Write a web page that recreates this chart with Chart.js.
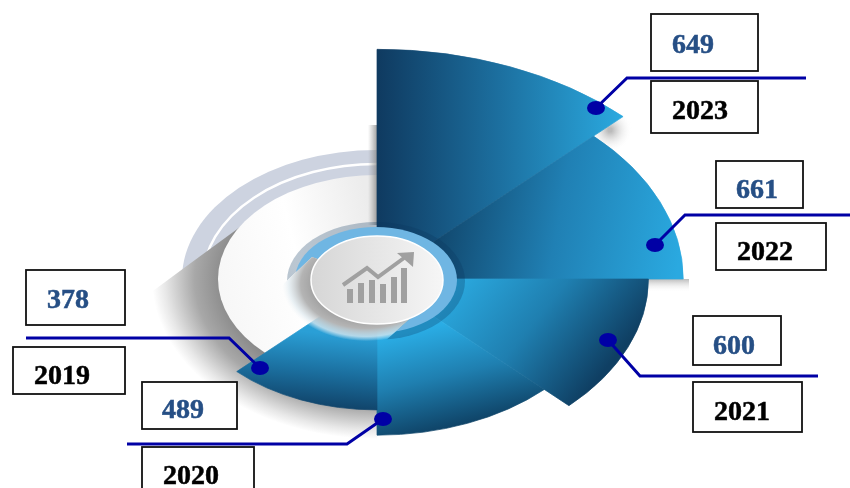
<!DOCTYPE html>
<html>
<head>
<meta charset="utf-8">
<style>html,body{margin:0;padding:0;background:#fff}canvas{display:block}</style>
<script src="https://cdn.jsdelivr.net/npm/chart.js@4"></script>
</head>
<body>
<canvas id="c" width="850" height="488"></canvas>
<script>
// Sector order is clockwise from 12 o'clock, as in the picture.
const categories = ['2023', '2022', '2021', '2020', '2019'];
const values = [649, 661, 600, 489, 378];
// The picture's sectors step down in length by position, not by value:
// this is each sector's length, in % of the longest.
const sectorReach = [100, 88, 78, 68, 57];
const sectorAngle = [45, 45, 45, 45, 45];

const CX = 377, CY = 279, TILT = 0.66, LONGEST = 348;

const fills = [
  {from: [377, 150], to: [620, 150], stops: ['#0f3a60', '#1c6f9f', '#2aa8de']},
  {from: [430, 220], to: [683, 240], stops: ['#104368', '#2080b4', '#2aa9e0']},
  {from: [455, 285], to: [625, 345], stops: ['#2aa8de', '#1f7fb0', '#0f3f63']},
  {from: [395, 335], to: [445, 428], stops: ['#2aade5', '#1f7fb0', '#0f4468']},
  {from: [345, 335], to: [330, 412], stops: ['#2a9fd6', '#1b6f9f', '#0f3e63']}
];

const callouts = [
  {value: {box: [651, 14, 107, 57], text: [672, 53]}, year: {box: [651, 81, 107, 52], text: [672, 119]},
   line: [[806, 78], [627, 78], [596, 108]]},
  {value: {box: [716, 161, 87, 47], text: [736, 198]}, year: {box: [716, 223, 110, 47], text: [737, 260]},
   line: [[850, 215], [685, 215], [655, 245]]},
  {value: {box: [693, 316, 88, 49], text: [713, 354]}, year: {box: [693, 382, 109, 50], text: [714, 420]},
   line: [[818, 376], [640, 376], [608, 340]]},
  {value: {box: [142, 382, 95, 47], text: [162, 418]}, year: {box: [142, 447, 112, 50], text: [163, 484]},
   line: [[127, 444], [347, 444], [383, 419]]},
  {value: {box: [26, 270, 99, 55], text: [47, 308]}, year: {box: [13, 347, 112, 47], text: [34, 384]},
   line: [[26, 338], [229, 338], [260, 368]]}
];

function kx(r) { return LONGEST / r.drawingArea; }
function ky(r) { return LONGEST * TILT / r.drawingArea; }

function sectorFill(context) {
  const f = fills[context.dataIndex];
  const r = context.chart.scales.r;
  if (!f || !r || !r.drawingArea) return '#1c6f9f';
  const lx = x => r.xCenter + (x - CX) / kx(r);
  const ly = y => r.yCenter + (y - CY) / ky(r);
  const g = context.chart.ctx.createLinearGradient(lx(f.from[0]), ly(f.from[1]), lx(f.to[0]), ly(f.to[1]));
  f.stops.forEach((s, i) => g.addColorStop(i / (f.stops.length - 1), s));
  return g;
}

function ell(ctx, x, y, a, b) { ctx.beginPath(); ctx.ellipse(x, y, a, b, 0, 0, Math.PI * 2); }

function drawBackdrop(ctx) {
  // pale double ring, upper left
  ctx.save();
  ctx.beginPath(); ctx.rect(150, 130, 227, 165); ctx.clip();
  ell(ctx, CX, CY, 195, 129); ctx.fillStyle = '#cdd3e0'; ctx.fill();
  ell(ctx, CX, CY, 174, 115); ctx.strokeStyle = '#fff'; ctx.lineWidth = 2.5; ctx.stroke();
  ctx.restore();

  // cast shadow, lower left
  ctx.save();
  ctx.beginPath();
  ctx.moveTo(130, 308); ctx.lineTo(184, 268); ctx.lineTo(240, 227); ctx.lineTo(377, 227);
  ctx.lineTo(377, 450); ctx.lineTo(130, 450); ctx.closePath(); ctx.clip();
  ctx.translate(CX, CY); ctx.scale(1, 160 / 225);
  let g = ctx.createRadialGradient(0, 0, 140, 0, 0, 225);
  g.addColorStop(0, '#7c7c7c');
  g.addColorStop(0.5, '#a8a8a8');
  g.addColorStop(0.85, '#e8e8e8');
  g.addColorStop(1, '#ffffff');
  ctx.fillStyle = g;
  ell(ctx, 0, 0, 225, 225); ctx.fill();
  ctx.restore();

  // white disc
  ctx.save();
  ctx.beginPath(); ctx.rect(150, 130, 227, 300); ctx.clip();
  g = ctx.createLinearGradient(218, 279, 377, 240);
  g.addColorStop(0, '#f7f7f7'); g.addColorStop(0.5, '#ffffff'); g.addColorStop(1, '#ececec');
  ell(ctx, CX, CY, 159, 104); ctx.fillStyle = g; ctx.fill();
  ctx.restore();

  // strip of shadow down the left side of the top sector
  g = ctx.createLinearGradient(368, 0, 377, 0);
  g.addColorStop(0, 'rgba(150,150,150,0)'); g.addColorStop(1, 'rgba(130,130,130,.75)');
  ctx.fillStyle = g; ctx.fillRect(368, 125, 9, 100);

  // shadow under the tip of the second sector and the right edge
  g = ctx.createLinearGradient(0, 279, 0, 292);
  g.addColorStop(0, 'rgba(170,170,170,.8)'); g.addColorStop(1, 'rgba(255,255,255,0)');
  ctx.fillStyle = g; ctx.fillRect(645, 279, 44, 13);
  g = ctx.createRadialGradient(610, 130, 2, 610, 130, 22);
  g.addColorStop(0, 'rgba(170,170,170,.8)'); g.addColorStop(1, 'rgba(255,255,255,0)');
  ctx.fillStyle = g; ctx.fillRect(588, 108, 44, 44);
}

function hubShadowPath(ctx) {
  ctx.moveTo(262, 304); ctx.lineTo(312, 257); ctx.lineTo(377, 280); ctx.lineTo(412, 317);
  ctx.lineTo(375, 350); ctx.lineTo(262, 350); ctx.closePath();
}

function drawHub(ctx) {
  // dark halo and pale-blue ring, left open at the lower left where the shadow falls
  ctx.save();
  ctx.beginPath();
  ctx.rect(0, 0, 850, 488);
  hubShadowPath(ctx);
  ctx.clip('evenodd');
  ell(ctx, 376, 281, 89, 59); ctx.fillStyle = 'rgba(12,55,95,.28)'; ctx.fill();
  ell(ctx, 376, 280, 81, 53); ctx.fillStyle = '#6fb6e3'; ctx.fill();
  ctx.restore();

  // soft shadow falling to the lower left of the hub
  ctx.save();
  ctx.beginPath();
  hubShadowPath(ctx);
  ctx.clip();
  ctx.translate(366, 284); ctx.scale(1, 0.68);
  let g = ctx.createRadialGradient(0, 0, 50, 0, 0, 84);
  g.addColorStop(0, '#9d9d9d'); g.addColorStop(0.45, '#b4b4b4'); g.addColorStop(0.8, 'rgba(225,235,240,.75)'); g.addColorStop(1, 'rgba(240,245,248,0)');
  ctx.fillStyle = g;
  ell(ctx, 0, 0, 84, 84); ctx.fill();
  ctx.restore();

  // grey oval
  g = ctx.createLinearGradient(311, 280, 443, 280);
  g.addColorStop(0, '#d6d6d6'); g.addColorStop(1, '#f6f6f6');
  ell(ctx, 377, 280, 66, 44); ctx.fillStyle = g; ctx.fill();
  ctx.strokeStyle = '#fff'; ctx.lineWidth = 1.5; ctx.stroke();

  // rising-chart icon
  ctx.fillStyle = '#a0a0a0';
  [[347, 289], [358, 283], [369, 280], [380, 284], [391, 277], [401, 268]].forEach(b => {
    ctx.fillRect(b[0], b[1], 6, 303 - b[1]);
  });
  ctx.strokeStyle = '#a0a0a0'; ctx.lineWidth = 4; ctx.lineJoin = 'miter';
  ctx.beginPath(); ctx.moveTo(343, 285); ctx.lineTo(367, 268); ctx.lineTo(378, 277); ctx.lineTo(404, 258); ctx.stroke();
  ctx.beginPath(); ctx.moveTo(397, 253); ctx.lineTo(414, 252); ctx.lineTo(413, 267); ctx.closePath(); ctx.fill();
}

function drawCallouts(ctx) {
  ctx.textBaseline = 'alphabetic';
  ctx.textAlign = 'left';
  callouts.forEach((c, i) => {
    [[c.value, String(values[i]), '#264f85'], [c.year, categories[i], '#000000']].forEach(p => {
      const b = p[0].box;
      ctx.fillStyle = '#fff'; ctx.fillRect(b[0], b[1], b[2], b[3]);
      ctx.strokeStyle = '#111'; ctx.lineWidth = 1.8; ctx.strokeRect(b[0], b[1], b[2], b[3]);
      ctx.fillStyle = p[2];
      ctx.font = 'bold 28px "Liberation Serif", serif';
      ctx.fillText(p[1], p[0].text[0], p[0].text[1]);
      ctx.strokeStyle = p[2]; ctx.lineWidth = 0.5;
      ctx.strokeText(p[1], p[0].text[0], p[0].text[1]);
    });
  });
  callouts.forEach(c => {
    ctx.strokeStyle = '#0000a5'; ctx.lineWidth = 3; ctx.lineJoin = 'miter';
    ctx.beginPath();
    c.line.forEach((p, j) => j ? ctx.lineTo(p[0], p[1]) : ctx.moveTo(p[0], p[1]));
    ctx.stroke();
    const e = c.line[2];
    ell(ctx, e[0], e[1], 9, 7); ctx.fillStyle = '#0000a5'; ctx.fill();
  });
}

const infographic = {
  id: 'infographic',
  beforeDatasetsDraw(chart) {
    const ctx = chart.ctx, r = chart.scales.r;
    ctx.save(); drawBackdrop(ctx); ctx.restore();
    ctx.save();
    ctx.translate(CX, CY);
    ctx.scale(kx(r), ky(r));
    ctx.translate(-r.xCenter, -r.yCenter);
  },
  afterDatasetsDraw(chart) {
    const ctx = chart.ctx;
    ctx.restore();
    ctx.save(); drawHub(ctx); drawCallouts(ctx); ctx.restore();
  }
};

new Chart(document.getElementById('c'), {
  type: 'polarArea',
  data: {
    labels: categories,
    datasets: [{
      label: 'Sector length',
      data: sectorReach,
      angle: sectorAngle,
      backgroundColor: sectorFill,
      borderColor: sectorFill,
      borderWidth: 0.6,
      clip: false
    }]
  },
  options: {
    responsive: false,
    animation: false,
    layout: {padding: 0},
    plugins: {legend: {display: false}, tooltip: {enabled: false}},
    scales: {r: {display: false, min: 0, max: 100}}
  },
  plugins: [infographic]
});
</script>
</body>
</html>
